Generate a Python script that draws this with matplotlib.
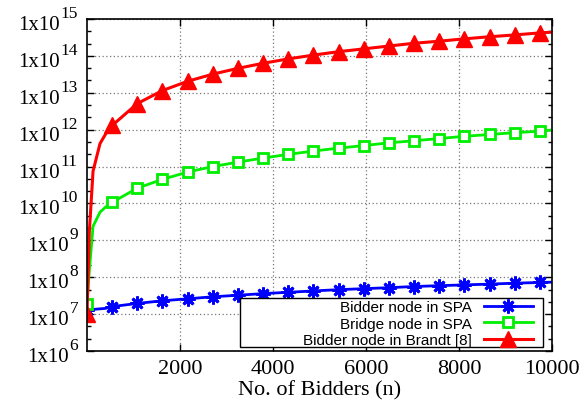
import matplotlib
matplotlib.use("Agg")
import matplotlib.pyplot as plt
from matplotlib.patches import Rectangle
from matplotlib.ticker import FixedLocator, NullFormatter

# No. of bidders (n); early points only shape the steep rise
bidders = [0, 50, 130, 280, 400, 541, 1082, 1623, 2164, 2705, 3246, 3787,
           4328, 4869, 5410, 5951, 6492, 7033, 7574, 8115, 8656, 9197, 9738, 10000]
marked = [0, 541, 1082, 1623, 2164, 2705, 3246, 3787, 4328, 4869, 5410, 5951,
          6492, 7033, 7574, 8115, 8656, 9197, 9738]

spa_bidder = [1.3e7, 1.32e7, 1.34e7, 1.39e7, 1.43e7, 1.6e7, 1.95e7, 2.3e7, 2.6e7,
              2.95e7, 3.25e7, 3.6e7, 3.9e7, 4.25e7, 4.6e7, 4.9e7, 5.2e7, 5.6e7,
              5.9e7, 6.2e7, 6.5e7, 6.9e7, 7.2e7, 7.35e7]
spa_bridge = [1.9e7, 1.5e8, 2.4e9, 5.8e9, 8.0e9, 1.07e10, 2.6e10, 4.5e10, 7.1e10,
              1.0e11, 1.32e11, 1.7e11, 2.14e11, 2.63e11, 3.16e11, 3.7e11, 4.4e11,
              5.0e11, 5.75e11, 6.6e11, 7.4e11, 8.3e11, 9.1e11, 9.8e11]
brandt = [1.0e7, 1.7e9, 7.5e10, 4.2e11, 7.6e11, 1.3e12, 5.1e12, 1.15e13, 2.05e13,
          3.2e13, 4.6e13, 6.3e13, 8.3e13, 1.05e14, 1.3e14, 1.55e14, 1.85e14,
          2.2e14, 2.5e14, 2.9e14, 3.3e14, 3.7e14, 4.2e14, 4.4e14]

labels = ['Bidder node in SPA', 'Bridge node in SPA', 'Bidder node in Brandt [8]']
x_ticks = [2000, 4000, 6000, 8000, 10000]
decades = list(range(6, 16))

marks = [i for i, n in enumerate(bidders) if n in marked]

fig = plt.figure(figsize=(5.84, 4.10), dpi=100)
ax = fig.add_axes([87 / 584, 1 - 352 / 410, 465 / 584, 332 / 410])

ax.plot(bidders, spa_bidder, color='#0000ff', lw=2, marker=(8, 2, 0),
        ms=10, mew=2, markevery=marks, label=labels[0])
ax.plot(bidders, spa_bridge, color='#00ee00', lw=2, marker='s', ms=7.5,
        mew=2, mfc='white', markevery=marks, label=labels[1])
ax.plot(bidders, brandt, color='#ff0000', lw=2.2, marker='^', ms=11,
        markevery=marks, label=labels[2])

ax.set_yscale('log')
ax.set_xlim(0, 10000)
ax.set_ylim(1e6, 1e15)

ax.xaxis.set_major_locator(FixedLocator(x_ticks))
ax.yaxis.set_major_locator(FixedLocator([10.0 ** d for d in decades]))
ax.yaxis.set_major_formatter(NullFormatter())
minor = []
for d in decades[:-1]:
    minor += [10.0 ** (d + 1 / 3), 10.0 ** (d + 2 / 3)]
ax.yaxis.set_minor_locator(FixedLocator(minor))
ax.yaxis.set_minor_formatter(NullFormatter())

# gnuplot style "1x10^d" labels: base text plus a raised exponent
sup_size = 12.5
for d in decades:
    nd = len(str(d))
    right = -7.2 - nd * sup_size * 0.5
    ax.annotate('1x10', xy=(0, 10.0 ** d), xycoords=('axes fraction', 'data'),
                xytext=(right, -7.2), textcoords='offset points', ha='right',
                va='baseline', fontsize=15, family='Liberation Serif',
                annotation_clip=False)
    ax.annotate(str(d), xy=(0, 10.0 ** d), xycoords=('axes fraction', 'data'),
                xytext=(right + 0.8, 1.4), textcoords='offset points', ha='left',
                va='baseline', fontsize=sup_size, family='Liberation Serif',
                annotation_clip=False)

ax.tick_params(which='both', direction='in', top=True, right=True, width=1)
ax.tick_params(which='major', length=5)
ax.tick_params(which='minor', length=3)
ax.tick_params(axis='x', labelsize=16, pad=6)
for lab in ax.get_xticklabels():
    lab.set_fontfamily('Liberation Serif')
for s in ax.spines.values():
    s.set_linewidth(1.2)

ax.grid(True, which='major', linestyle=(0, (1, 2)), color='#777777', lw=0.9)

ax.set_xlabel('No. of Bidders (n)', fontsize=16, fontfamily='Liberation Serif',
              labelpad=1)

# legend frame is wider than its entries, as in gnuplot
ax.add_patch(Rectangle((0.329, 0.012), 0.651, 0.148, transform=ax.transAxes,
                       facecolor='white', edgecolor='black', lw=1, zorder=4))
leg = ax.legend(loc='lower right', bbox_to_anchor=(0.959, 0.012),
                borderaxespad=0, markerfirst=False, frameon=False,
                handlelength=3.2, handletextpad=0.8, labelspacing=0.15,
                borderpad=0, prop={'family': 'Liberation Sans', 'size': 11})
leg.set_zorder(5)

fig.savefig('out.png', dpi=100)
